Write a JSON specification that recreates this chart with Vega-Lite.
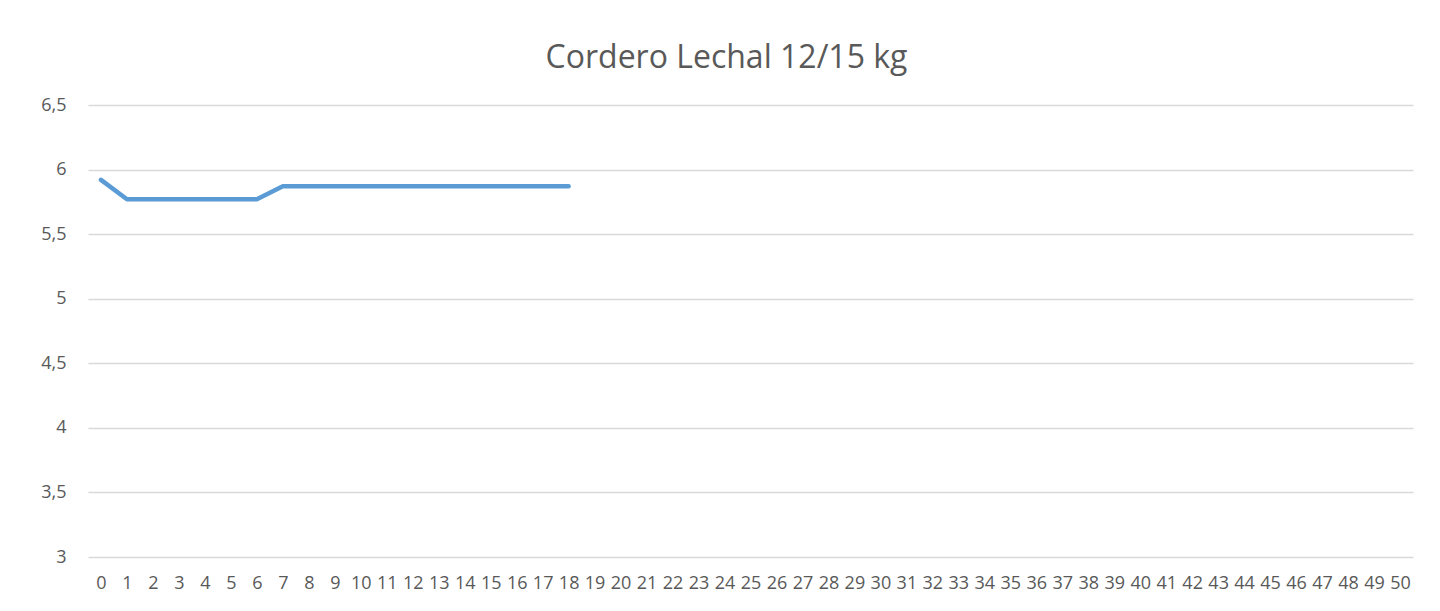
{
  "$schema": "https://vega.github.io/schema/vega-lite/v6.json",
  "autosize": {"type": "none"},
  "width": 1325,
  "height": 452,
  "padding": {"left": 88, "top": 105, "right": 27, "bottom": 54},
  "background": "white",
  "title": {
    "text": "Cordero Lechal 12/15 kg",
    "font": "Open Sans",
    "fontSize": 32,
    "fontWeight": "normal",
    "color": "#595959",
    "anchor": "middle",
    "baseline": "alphabetic",
    "offset": -4,
    "dx": -24
  },
  "data": {
    "values": [
      {"x": 0, "v": 5.92}, {"x": 1, "v": 5.77}, {"x": 2, "v": 5.77}, {"x": 3, "v": 5.77},
      {"x": 4, "v": 5.77}, {"x": 5, "v": 5.77}, {"x": 6, "v": 5.77}, {"x": 7, "v": 5.87},
      {"x": 8, "v": 5.87}, {"x": 9, "v": 5.87}, {"x": 10, "v": 5.87}, {"x": 11, "v": 5.87},
      {"x": 12, "v": 5.87}, {"x": 13, "v": 5.87}, {"x": 14, "v": 5.87}, {"x": 15, "v": 5.87},
      {"x": 16, "v": 5.87}, {"x": 17, "v": 5.87}, {"x": 18, "v": 5.87},
      {"x": 19, "v": null}, {"x": 20, "v": null}, {"x": 21, "v": null}, {"x": 22, "v": null},
      {"x": 23, "v": null}, {"x": 24, "v": null}, {"x": 25, "v": null}, {"x": 26, "v": null},
      {"x": 27, "v": null}, {"x": 28, "v": null}, {"x": 29, "v": null}, {"x": 30, "v": null},
      {"x": 31, "v": null}, {"x": 32, "v": null}, {"x": 33, "v": null}, {"x": 34, "v": null},
      {"x": 35, "v": null}, {"x": 36, "v": null}, {"x": 37, "v": null}, {"x": 38, "v": null},
      {"x": 39, "v": null}, {"x": 40, "v": null}, {"x": 41, "v": null}, {"x": 42, "v": null},
      {"x": 43, "v": null}, {"x": 44, "v": null}, {"x": 45, "v": null}, {"x": 46, "v": null},
      {"x": 47, "v": null}, {"x": 48, "v": null}, {"x": 49, "v": null}, {"x": 50, "v": null}
    ]
  },
  "mark": {"type": "line", "color": "#5b9bd5", "strokeWidth": 4.5, "strokeCap": "round", "strokeJoin": "round"},
  "encoding": {
    "x": {
      "field": "x",
      "type": "ordinal",
      "sort": "ascending",
      "scale": {"type": "point", "padding": 0.5},
      "axis": {
        "title": null,
        "labelAngle": 0,
        "labelFont": "Open Sans",
        "labelFontSize": 18,
        "labelColor": "#595959",
        "labelPadding": 17,
        "labelOverlap": false,
        "ticks": false,
        "domain": false,
        "grid": false
      }
    },
    "y": {
      "field": "v",
      "type": "quantitative",
      "scale": {"domain": [3, 6.5], "nice": false, "zero": false},
      "axis": {
        "title": null,
        "values": [3, 3.5, 4, 4.5, 5, 5.5, 6, 6.5],
        "labelExpr": "replace(format(datum.value, '.1~f'), '.', ',')",
        "labelFont": "Open Sans",
        "labelFontSize": 18,
        "labelColor": "#595959",
        "labelPadding": 22,
        "ticks": false,
        "domain": false,
        "grid": true,
        "gridColor": "#d9d9d9",
        "gridWidth": 1.3
      }
    }
  },
  "config": {"view": {"stroke": null}}
}
